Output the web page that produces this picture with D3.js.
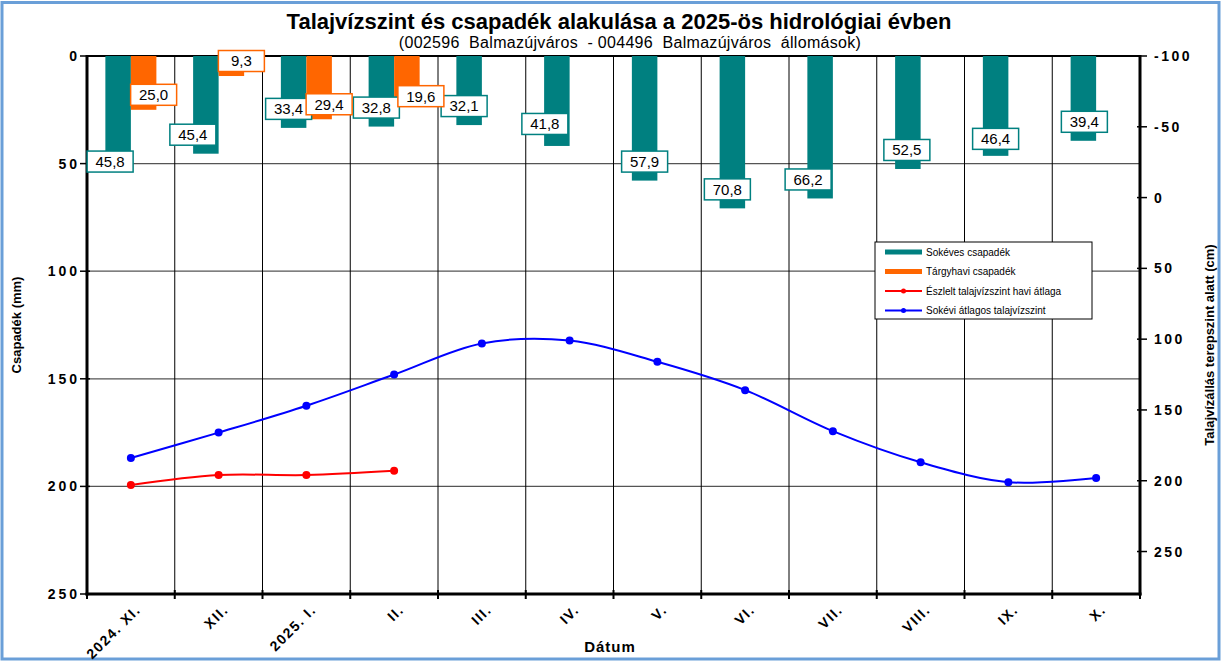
<!DOCTYPE html>
<html>
<head>
<meta charset="utf-8">
<script src="https://cdn.jsdelivr.net/npm/d3@7"></script>
<style>
  html, body { margin: 0; padding: 0; background: #fff; }
  svg { display: block; font-family: "Liberation Sans", Arial, sans-serif; }
</style>
</head>
<body>
<svg id="chart" width="1221" height="661"></svg>
<script>
// ---------------- data ----------------
const categories = ["2024. XI.", "XII.", "2025. I.", "II.", "III.", "IV.", "V.", "VI.", "VII.", "VIII.", "IX.", "X."];
const longTermPrecip = [45.8, 45.4, 33.4, 32.8, 32.1, 41.8, 57.9, 70.8, 66.2, 52.5, 46.4, 39.4];
const monthPrecip = [25.0, 9.3, 29.4, 19.6, null, null, null, null, null, null, null, null];
const observedLevel = [203, 196, 196, 193, null, null, null, null, null, null, null, null];
const longTermLevel = [184, 166, 147, 125, 103, 101, 116, 136, 165, 187, 201, 198];
const leftTicks = [0, 50, 100, 150, 200, 250];
const rightTicks = [-100, -50, 0, 50, 100, 150, 200, 250];
const legendLabels = ["Sokéves csapadék", "Tárgyhavi csapadék", "Észlelt talajvízszint havi átlaga", "Sokévi átlagos talajvízszint"];

// ---------------- layout ----------------
const W = 1221, H = 661;
const L = 87, R = 1140, T = 56, B = 594;
const TEAL = "#008080", ORANGE = "#FF6600", RED = "#FF0000", BLUE = "#0000FF";
const fmt = v => d3.format(".1f")(v).replace(".", ",");

const svg = d3.select("#chart");
svg.append("rect").attr("x", 0).attr("y", 0).attr("width", W).attr("height", H).attr("fill", "#fff");
svg.append("rect").attr("x", 2).attr("y", 2.5).attr("width", W - 4).attr("height", H - 4.5)
  .attr("fill", "none").attr("stroke", "#6A9FD8").attr("stroke-width", 3);

const x = d3.scaleBand().domain(categories).range([L, R]).padding(0);
const sub = d3.scaleBand().domain(["long", "month"]).range([0, x.bandwidth()]).paddingInner(0).paddingOuter(0.72);
const yL = d3.scaleLinear().domain([0, 250]).range([T, B]);
const yR = d3.scaleLinear().domain([-100, 280]).range([T, B]);

// gridlines
const grid = svg.append("g");
grid.selectAll("line.h").data(leftTicks.filter(t => t > 0 && t < 250)).join("line")
  .attr("x1", L).attr("x2", R).attr("y1", d => yL(d)).attr("y2", d => yL(d))
  .attr("stroke", "#555").attr("stroke-width", 1.2);
grid.selectAll("line.v").data(categories.slice(1)).join("line")
  .attr("x1", d => x(d)).attr("x2", d => x(d)).attr("y1", T).attr("y2", B)
  .attr("stroke", "#000").attr("stroke-width", 1);
grid.append("line").attr("x1", L).attr("x2", R).attr("y1", T).attr("y2", T)
  .attr("stroke", "#000").attr("stroke-width", 2);

// bars
const bars = svg.append("g");
bars.selectAll("rect.long").data(categories).join("rect")
  .attr("x", d => x(d) + sub("long")).attr("width", sub.bandwidth())
  .attr("y", yL(0)).attr("height", (d, i) => yL(longTermPrecip[i]) - yL(0))
  .attr("fill", TEAL);
bars.selectAll("rect.month").data(categories.filter((d, i) => monthPrecip[i] != null)).join("rect")
  .attr("x", d => x(d) + sub("month")).attr("width", sub.bandwidth())
  .attr("y", yL(0)).attr("height", (d, i) => yL(monthPrecip[i]) - yL(0))
  .attr("fill", ORANGE);

// lines
const cx = d => x(d) + x.bandwidth() / 2;
function drawLine(values, color) {
  const pts = categories.map((c, i) => [cx(c), values[i]]).filter(p => p[1] != null);
  const line = d3.line().x(p => p[0]).y(p => yR(p[1])).curve(d3.curveCatmullRom.alpha(0.5));
  svg.append("path").attr("d", line(pts)).attr("fill", "none").attr("stroke", color).attr("stroke-width", 2);
  svg.append("g").selectAll("circle").data(pts).join("circle")
    .attr("cx", p => p[0]).attr("cy", p => yR(p[1])).attr("r", 4).attr("fill", color);
}
drawLine(longTermLevel, BLUE);
drawLine(observedLevel, RED);

// axes
const axisG = svg.append("g").attr("font-weight", "bold").attr("font-size", 14);
// left
axisG.append("line").attr("x1", L).attr("x2", L).attr("y1", T - 1).attr("y2", B + 1.5).attr("stroke", "#000").attr("stroke-width", 3);
axisG.selectAll("line.lt").data(leftTicks).join("line")
  .attr("x1", L - 7).attr("x2", L + 3).attr("y1", d => yL(d)).attr("y2", d => yL(d)).attr("stroke", "#000").attr("stroke-width", 1.5);
axisG.selectAll("text.lt").data(leftTicks).join("text")
  .attr("x", L - 7).attr("y", d => yL(d)).attr("dy", "0.36em").attr("text-anchor", "end")
  .attr("letter-spacing", 3).text(d => d);
// right
axisG.append("line").attr("x1", R).attr("x2", R).attr("y1", T - 1).attr("y2", B + 1.5).attr("stroke", "#000").attr("stroke-width", 3);
axisG.selectAll("line.rt").data(rightTicks).join("line")
  .attr("x1", R - 3).attr("x2", R + 7).attr("y1", d => yR(d)).attr("y2", d => yR(d)).attr("stroke", "#000").attr("stroke-width", 1.5);
axisG.selectAll("text.rt").data(rightTicks).join("text")
  .attr("x", R + 14).attr("y", d => yR(d)).attr("dy", "0.36em").attr("text-anchor", "start")
  .attr("letter-spacing", 2.5).text(d => d);
// bottom
axisG.append("line").attr("x1", L - 1.5).attr("x2", R + 1.5).attr("y1", B).attr("y2", B).attr("stroke", "#000").attr("stroke-width", 3);
const bounds = categories.map(c => x(c)).concat([R]);
axisG.selectAll("line.bt").data(bounds).join("line")
  .attr("x1", d => d).attr("x2", d => d).attr("y1", B - 4).attr("y2", B + 5).attr("stroke", "#000").attr("stroke-width", 2);
axisG.selectAll("text.bt").data(categories).join("text")
  .attr("transform", d => `translate(${cx(d) + 7},${B + 13}) rotate(-45)`)
  .attr("text-anchor", "end").attr("dy", "0.36em").attr("font-size", 14).attr("letter-spacing", 1.5).text(d => d);

// axis titles
svg.append("text").attr("x", 610).attr("y", 652).attr("text-anchor", "middle")
  .attr("font-weight", "bold").attr("font-size", 15).attr("letter-spacing", 1).text("Dátum");
svg.append("text").attr("transform", `translate(21,${(T + B) / 2}) rotate(-90)`).attr("text-anchor", "middle")
  .attr("font-weight", "bold").attr("font-size", 13).text("Csapadék (mm)");
svg.append("text").attr("transform", `translate(1214,${(T + B) / 2 + 20}) rotate(-90)`).attr("text-anchor", "middle")
  .attr("font-weight", "bold").attr("font-size", 13).text("Talajvízállás terepszint alatt (cm)");

// title
svg.append("text").attr("x", 619).attr("y", 29).attr("text-anchor", "middle")
  .attr("font-weight", "bold").attr("font-size", 22).text("Talajvízszint és csapadék alakulása a 2025-ös hidrológiai évben");
svg.append("text").attr("x", 630).attr("y", 48).attr("text-anchor", "middle").attr("font-size", 16)
  .attr("letter-spacing", 0.3).attr("xml:space", "preserve").style("white-space", "pre")
  .text("(002596  Balmazújváros  - 004496  Balmazújváros  állomások)");

// data labels
function labels(values, key, color, dx, dy, tweak) {
  const g = svg.append("g");
  categories.forEach((c, i) => {
    const v = values[i];
    if (v == null) return;
    const t = tweak[i] || [0, 0];
    const lx = x(c) + sub(key) + sub.bandwidth() / 2 + dx + t[0];
    const ly = yL(v) + dy + t[1];
    g.append("rect").attr("x", lx - 23).attr("y", ly - 10.5).attr("width", 46).attr("height", 21)
      .attr("fill", "#fff").attr("stroke", color).attr("stroke-width", 1.5);
    g.append("text").attr("x", lx).attr("y", ly).attr("dy", "0.36em").attr("text-anchor", "middle")
      .attr("font-size", 15).attr("fill", "#000").text(fmt(v));
  });
}
labels(longTermPrecip, "long", TEAL, -5, -19, {0: [-3, 26], 1: [-8, 0], 5: [-7, -3], 8: [-7, 0], 6: [5, 0], 9: [4, 0], 10: [5, 2], 11: [6, 0]});
labels(monthPrecip, "month", ORANGE, 10, -15, {3: [4, 13]});

// legend
const lg = svg.append("g").attr("transform", "translate(875,242)");
lg.append("rect").attr("width", 217).attr("height", 77).attr("fill", "#fff").attr("stroke", "#000").attr("stroke-width", 1);
const legColors = [TEAL, ORANGE, RED, BLUE];
legendLabels.forEach((lab, i) => {
  const yy = 10 + i * 19.5;
  const isBar = i < 2;
  lg.append("line").attr("x1", 10).attr("x2", 47).attr("y1", yy).attr("y2", yy)
    .attr("stroke", legColors[i]).attr("stroke-width", isBar ? 5 : 2);
  if (!isBar) lg.append("circle").attr("cx", 28.5).attr("cy", yy).attr("r", 2.5).attr("fill", legColors[i]);
  lg.append("text").attr("x", 51).attr("y", yy).attr("dy", "0.36em").attr("font-size", 10).text(lab);
});
</script>
</body>
</html>
